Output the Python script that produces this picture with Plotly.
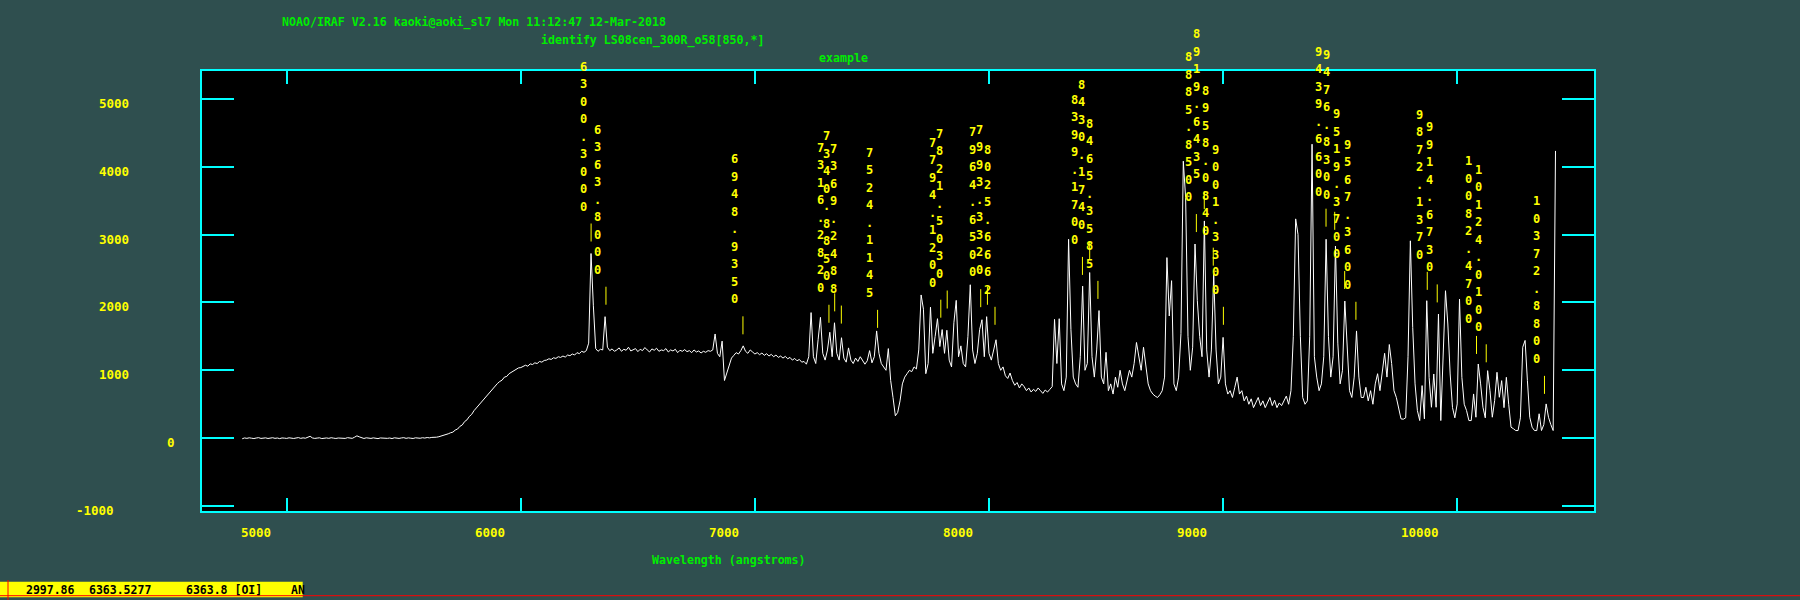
import numpy as np
import plotly.graph_objects as go

# ---------------- data ----------------
# spectrum on a linear dispersion grid (CRVAL1 / CDELT1 style)
crval1 = 4810.0
cdelt1 = 10.0
flux = [
    -8, 4, -2, 6, 0, -5, 3, 8, -3, 2,
    5, -4, 0, 7, -2, 3, -6, 4, 1, -3,
    6, 0, -4, 3, 9, -2, 5, 0, 18, 28,
    4, -3, 2, 6, -5, 0, 4, -2, 7, 1,
    -4, 3, 0, 5, -3, 8, 2, -2, 15, 35,
    20, 3, -4, 6, 0, -3, 5, 2, -6, 4,
    0, 7, -2, 3, -5, 6, 1, -3, 4, 8,
    -2, 5, 0, -4, 6, 3, -1, 7, 2, 10,
    5, 12, 8, 15, 22, 30, 40, 50, 65, 80,
    90, 120, 135, 175, 195, 245, 270, 320, 350, 405,
    445, 490, 525, 575, 605, 655, 690, 735, 765, 805,
    835, 855, 900, 910, 950, 970, 995, 1005, 1035, 1040,
    1055, 1075, 1060, 1095, 1085, 1110, 1100, 1130, 1120, 1145,
    1150, 1170, 1160, 1185, 1175, 1200, 1190, 1210, 1195, 1225,
    1215, 1240, 1225, 1260, 1245, 1280, 1265, 1290, 1400, 2720,
    1950, 1320, 1280, 1310, 1300, 1790, 1340, 1290, 1315, 1280,
    1300, 1330, 1280, 1310, 1295, 1340, 1285, 1305, 1320, 1275,
    1310, 1290, 1335, 1300, 1270, 1315, 1295, 1325, 1280, 1300,
    1290, 1320, 1270, 1300, 1285, 1310, 1260, 1295, 1280, 1305,
    1275, 1290, 1260, 1300, 1270, 1285, 1255, 1280, 1265, 1290,
    1280, 1300, 1535, 1250, 1200, 1430, 850, 960, 1080, 1180,
    1220, 1260, 1240, 1290, 1360, 1280, 1250, 1300, 1270, 1240,
    1260, 1230, 1255, 1220, 1245, 1210, 1235, 1200, 1225, 1190,
    1210, 1180, 1205, 1170, 1190, 1150, 1175, 1140, 1160, 1120,
    1130, 1090, 1200, 1850, 1200, 1100, 1450, 1780, 1250, 1150,
    1300, 1560, 1200, 1700, 1250, 1150, 1480, 1180, 1120, 1330,
    1150, 1100, 1180, 1130, 1200, 1150, 1090, 1140, 1290, 1110,
    1200, 1580, 1250, 1100, 1050, 1000, 1320, 850, 600, 330,
    380, 550, 800, 900, 950, 1000, 980, 1050, 1020, 1300,
    2110, 1900, 950, 1100, 1930, 1250, 1500, 1760, 1350, 1600,
    1250, 1590, 1150, 1050, 1700, 2030, 1200, 1360, 1100, 1050,
    1500, 2260, 1300, 1100, 1250, 1600, 1745, 1200, 1790, 1250,
    1150, 1300, 1450, 1100, 1000, 1050, 920, 880, 960, 850,
    780, 820, 740, 800, 760, 700, 740, 680, 720, 690,
    740, 700, 660, 710, 680, 720, 760, 1750, 1100, 1760,
    800, 700, 900, 2930, 1600, 900, 800, 750, 1200, 2240,
    1000, 1100, 2440, 1200, 900, 1300, 1880, 900, 800, 1265,
    700, 800, 650, 900, 750, 1000, 800, 700, 850, 1000,
    900, 1100, 1410, 1200, 1000, 1340, 1100, 800, 700, 650,
    620, 600, 640, 700, 900, 2660, 1800, 2320, 800, 700,
    900, 1540, 4080, 3540, 1500, 1000, 1340, 2860, 2025, 1500,
    1200, 3200, 1300, 900, 1300, 2420, 1300, 800, 900, 1485,
    800, 650, 700, 600, 750, 900, 650, 700, 550, 620,
    500, 580, 450, 520, 600, 480, 550, 450, 530, 600,
    480, 560, 450, 520, 480, 550, 620, 500, 700, 1500,
    3230, 3000, 1500, 600, 500, 550, 1500, 4330, 1200, 900,
    700, 800, 1200, 2930, 1500, 900, 1200, 2830, 1400, 800,
    1000, 2020, 1400, 700, 600, 900, 1580, 900, 600, 600,
    750, 550, 700, 500, 800, 950, 700, 1000, 1250, 900,
    1380, 1100, 700, 600, 450, 285, 280, 300, 1200, 2907,
    1633, 800, 407, 260, 775, 285, 2025, 897, 456, 946,
    456, 1829, 260, 1387, 2172, 1682, 946, 450, 300, 505,
    2050, 897, 500, 407, 260, 260, 652, 309, 1093, 800,
    456, 300, 995, 701, 309, 554, 971, 603, 848, 450,
    897, 500, 162, 140, 113, 113, 300, 1340, 1440, 848,
    309, 162, 113, 113, 360, 113, 200, 505, 309, 200,
    113, 4231,
]
wavelength = crval1 + cdelt1 * np.arange(len(flux))

# identified lines: label text and level of the tick mark base
line_ids = ["6300.3000", "6363.8000", "6948.9350", "7316.2820", "7340.8850",
            "7369.2488", "7524.1145", "7794.1200", "7821.5030", "7964.6500",
            "7993.3320", "8025.6662", "8399.1700", "8430.1740", "8465.3585",
            "8885.8500", "8919.6435", "8958.0840", "9001.3300", "9439.6600",
            "9476.8300", "9519.3700", "9567.3600", "9872.1370", "9914.6730",
            "10082.4700", "10124.0100", "10372.8800"]
line_marks = [2897, 1966, 1530, 1700, 1868,
              1688, 1625, 1775, 1910, 1930,
              1965, 1670, 2405, 2628, 2052,
              3036, 3374, 2541, 1670, 3115,
              3069, 2197, 1744, 2185, 2000,
              1241, 1118, 653]

x_ticks = [5000, 6000, 7000, 8000, 9000, 10000]
y_ticks = [5000, 4000, 3000, 2000, 1000, 0, -1000]

title1 = "NOAO/IRAF V2.16 kaoki@aoki_sl7 Mon 11:12:47 12-Mar-2018"
title2 = "identify LS08cen_300R_o58[850,*]"
title3 = "example"
xlabel = "Wavelength (angstroms)"
status = [("2997.86", 24), ("6363.5277", 86.7), ("6363.8 [OI]", 184.3), ("AN", 289.3)]

# ---------------- layout constants ----------------
W, H = 1800, 600
L, R, T, B = 202, 206, 71, 89
XR = [4638.2, 10584.4]
YR = [-1072, 5408]
BG = "#2f4f4f"
CYAN = "#00ffff"
YEL = "#ffff00"
GRN = "#00ee00"
MONO = "DejaVu Sans Mono"


def px(xp):
    return (xp - L) / (W - L - R)


def py(yp):
    return (H - B - yp) / (H - T - B)


fig = go.Figure()
fig.add_trace(go.Scatter(x=wavelength, y=flux, mode="lines",
                         line=dict(color="white", width=1), hoverinfo="skip",
                         showlegend=False))

ann = []
shapes = []

# line identifications
for lab, mk in zip(line_ids, line_marks):
    wl = float(lab)
    shapes.append(dict(type="line", xref="x", yref="y", x0=wl, x1=wl,
                       ysizemode="pixel", yanchor=mk, y0=0, y1=18,
                       line=dict(color=YEL, width=1)))
    n = len(lab)
    for k, ch in enumerate(lab):
        ann.append(dict(text=ch, x=wl, y=mk, xref="x", yref="y",
                        xshift=-8, yshift=35 + 17.5 * (n - 1 - k),
                        xanchor="center", yanchor="middle", showarrow=False,
                        font=dict(family=MONO, size=12, color=YEL, weight="bold")))

# x tick labels (IRAF draws them offset to the left of the tick)
for v in x_ticks:
    s = str(v)
    ann.append(dict(text=s, x=v, y=py(532.5), xref="x", yref="paper",
                    xshift=-31 - 6 * (len(s) - 4), xanchor="center", yanchor="middle",
                    showarrow=False,
                    font=dict(family=MONO, size=12.5, color=YEL, weight="bold")))

# y tick labels
ylab_center = {5000: 114, 4000: 114, 3000: 114, 2000: 114, 1000: 114, 0: 171, -1000: 94.5}
for v in y_ticks:
    ann.append(dict(text=str(v), x=px(ylab_center[v]), y=v,
                    xref="paper", yref="y", yshift=-4.5,
                    xanchor="center", yanchor="middle", showarrow=False,
                    font=dict(family=MONO, size=12.5, color=YEL, weight="bold")))

# green texts
for txt, cx, cy in [(title1, 473.5, 22), (title2, 652, 40.2), (title3, 843.5, 57.8),
                    (xlabel, 729, 560)]:
    ann.append(dict(text=txt, x=px(cx), y=py(cy), xref="paper", yref="paper",
                    xanchor="center", yanchor="middle", showarrow=False,
                    font=dict(family=MONO, size=11.6, color=GRN, weight="bold")))

# status bar
shapes.append(dict(type="rect", xref="paper", yref="paper",
                   x0=px(0), x1=px(302.7), y0=py(597.3), y1=py(581.7),
                   fillcolor=YEL, line=dict(width=0), layer="above"))
for txt, lx in status:
    ann.append(dict(text=txt, x=px(lx), y=py(590.3), xref="paper", yref="paper",
                    xanchor="left", yanchor="middle", showarrow=False,
                    font=dict(family=MONO, size=11.5, color="black", weight="bold")))
shapes.append(dict(type="line", xref="paper", yref="paper", x0=px(0), x1=px(1800),
                   y0=py(595.7), y1=py(595.7), line=dict(color="#ff0000", width=1),
                   layer="above"))
shapes.append(dict(type="line", xref="paper", yref="paper", x0=px(8), x1=px(8),
                   y0=py(580), y1=py(600), line=dict(color="#ff0000", width=1),
                   layer="above"))

axis_common = dict(showline=True, linecolor=CYAN, linewidth=2, mirror="ticks",
                   ticks="inside", tickcolor=CYAN, tickwidth=2,
                   showgrid=False, zeroline=False, showticklabels=False)

fig.update_layout(
    width=W, height=H,
    margin=dict(l=L, r=R, t=T, b=B, pad=0),
    paper_bgcolor=BG, plot_bgcolor="black",
    xaxis=dict(range=XR, tickvals=x_ticks, ticklen=13, **axis_common),
    yaxis=dict(range=YR, tickvals=y_ticks, ticklen=32, **axis_common),
    annotations=ann, shapes=shapes, showlegend=False,
)

fig.write_html(
    "out.html",
    config={"displayModeBar": False},
    post_script="document.body.style.margin='0';document.body.style.padding='0';"
                "document.documentElement.style.background='" + BG + "';",
)
